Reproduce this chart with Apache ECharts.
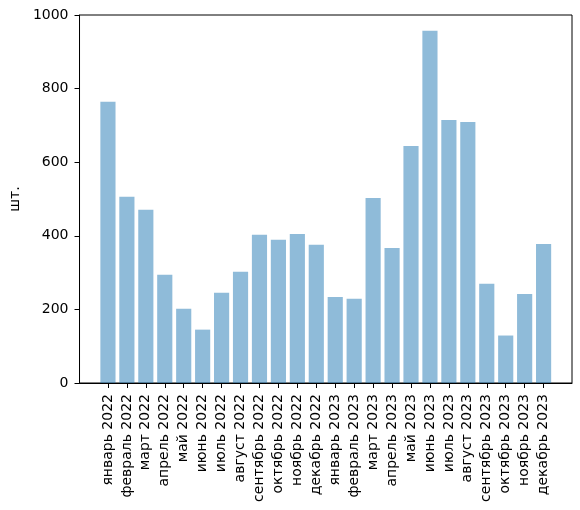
<!DOCTYPE html>
<html>
<head>
<meta charset="utf-8">
<script src="https://cdn.jsdelivr.net/npm/echarts@6/dist/echarts.min.js"></script>
<style>
html,body{margin:0;padding:0;background:#fff;}
#chart{width:580px;height:510px;}
</style>
</head>
<body>
<div id="chart"></div>
<script>
const categories = [
  "январь 2022","февраль 2022","март 2022","апрель 2022","май 2022","июнь 2022",
  "июль 2022","август 2022","сентябрь 2022","октябрь 2022","ноябрь 2022","декабрь 2022",
  "январь 2023","февраль 2023","март 2023","апрель 2023","май 2023","июнь 2023",
  "июль 2023","август 2023","сентябрь 2023","октябрь 2023","ноябрь 2023","декабрь 2023"
];
const values = [
  764, 506, 471, 294, 202, 145, 245, 302, 403, 389, 405, 376,
  234, 229, 503, 367, 644, 957, 715, 709, 270, 129, 242, 378
];
const yTicks = [0, 200, 400, 600, 800, 1000];
const yLabel = "шт.";

// pad one empty slot on each side to mimic the plot margins
const axisCats = [""].concat(categories, [""]);
const seriesData = ["-"].concat(values, ["-"]);

const font = "DejaVu Sans";
const chart = echarts.init(document.getElementById('chart'), null, {renderer: 'canvas'});
chart.setOption({
  animation: false,
  backgroundColor: '#ffffff',
  grid: {
    left: 75, right: 8, top: 15, bottom: 127,
    show: true, borderColor: '#000', borderWidth: 1, backgroundColor: 'transparent'
  },
  xAxis: {
    type: 'category',
    data: axisCats,
    axisLine: {show: true, lineStyle: {color: '#000', width: 1}},
    axisTick: {
      show: true, alignWithLabel: true, length: 5,
      interval: function (idx, val) { return val !== ""; },
      lineStyle: {color: '#000'}
    },
    axisLabel: {
      interval: 0, rotate: 90, margin: 11,
      color: '#000', fontFamily: font, fontSize: 14
    },
    splitLine: {show: false}
  },
  yAxis: {
    type: 'value',
    min: yTicks[0], max: yTicks[yTicks.length - 1], interval: yTicks[1] - yTicks[0],
    name: yLabel, nameLocation: 'middle', nameGap: 49, nameRotate: 90,
    nameTextStyle: {color: '#000', fontFamily: font, fontSize: 14},
    axisLine: {show: true, lineStyle: {color: '#000', width: 1}},
    axisTick: {show: true, length: 5, lineStyle: {color: '#000'}},
    axisLabel: {
      color: '#000', fontFamily: font, fontSize: 14, margin: 11,
      formatter: function (v) { return String(v); }
    },
    splitLine: {show: false}
  },
  series: [{
    type: 'bar',
    data: seriesData,
    barWidth: '80%',
    itemStyle: {color: 'rgba(31,119,180,0.5)'}
  }]
});
</script>
</body>
</html>
